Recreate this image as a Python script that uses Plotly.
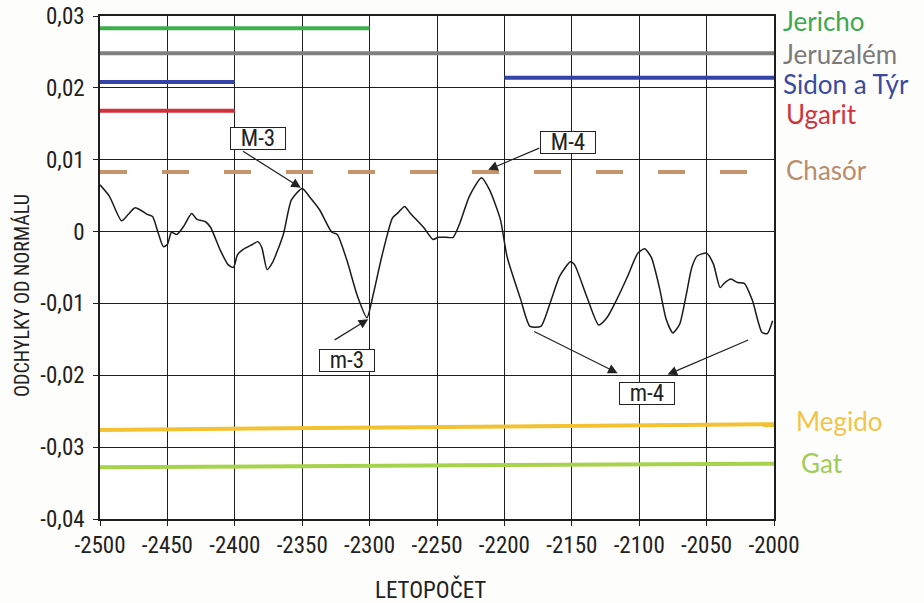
import plotly.graph_objects as go

# ---- curve data ----
years = [-2500,-2493,-2484,-2479,-2474,-2470,-2465,-2461,-2457,-2453,-2450,-2447,-2443,-2438,-2432,-2428,
         -2422,-2418,-2411,-2405,-2401,-2398,-2394,-2387,-2383,-2380,-2376,-2372,-2364,-2358,-2350,-2344,
         -2337,-2328,-2324,-2317,-2309,-2302,-2297,-2291,-2283,-2279,-2274,-2270,-2260,-2253,-2249,-2243,
         -2238,-2233,-2226,-2217,-2211,-2203,-2198,-2188,-2181,-2173,-2166,-2159,-2151,-2148,-2139,-2130,
         -2124,-2117,-2109,-2101,-2096,-2091,-2085,-2080,-2075,-2070,-2065,-2061,-2057,-2050,-2045,-2040,
         -2037,-2032,-2027,-2022,-2016,-2009,-2005,-2001]
deviation = [0.0065,0.0049,0.0015,0.0024,0.0033,0.0030,0.0024,0.0021,-0.0001,-0.0021,-0.0018,-0.0001,
             -0.0004,0.0007,0.0025,0.0017,0.0014,0.0006,-0.0025,-0.0046,-0.0050,-0.0032,-0.0025,-0.0018,
             -0.0014,-0.0022,-0.0053,-0.0043,-0.0004,0.0044,0.0060,0.0047,0.0030,-0.0001,-0.0004,-0.0039,
             -0.0090,-0.0120,-0.0085,-0.0035,0.0019,0.0026,0.0035,0.0026,0.0006,-0.0011,-0.0008,-0.0008,
             -0.0008,0.0012,0.0049,0.0075,0.0058,0.0017,-0.0035,-0.0094,-0.0132,-0.0132,-0.0099,-0.0062,
             -0.0042,-0.0046,-0.0090,-0.0130,-0.0120,-0.0096,-0.0064,-0.0030,-0.0024,-0.0036,-0.0078,-0.0122,
             -0.0141,-0.0129,-0.0087,-0.0050,-0.0034,-0.0030,-0.0045,-0.0078,-0.0072,-0.0066,-0.0071,-0.0072,
             -0.0096,-0.0140,-0.0142,-0.0124]

# ---- site level segments ----
seg_site   = ["Jericho", "Jeruzalém", "Sidon a Týr", "Sidon a Týr", "Ugarit", "Chasór", "Megido", "Gat"]
seg_start  = [-2500, -2500, -2500, -2200, -2500, -2500, -2500, -2500]
seg_end    = [-2300, -2000, -2400, -2000, -2400, -2000, -2000, -2000]
seg_y0     = [0.0283, 0.0248, 0.0208, 0.0214, 0.0168, 0.0083, -0.0276, -0.0328]
seg_y1     = [0.0283, 0.0248, 0.0208, 0.0214, 0.0168, 0.0083, -0.0268, -0.0323]

site_names  = ["Jericho", "Jeruzalém", "Sidon a Týr", "Ugarit", "Chasór", "Megido", "Gat"]
site_level  = [0.0283, 0.0248, 0.0214, 0.0168, 0.0083, -0.0268, -0.0323]

# ---- axis ticks ----
x_ticks = [-2500, -2450, -2400, -2350, -2300, -2250, -2200, -2150, -2100, -2050, -2000]
x_labels = ["-2500", "-2450", "-2400", "-2350", "-2300", "-2250", "-2200", "-2150", "-2100", "-2050", "-2000"]
y_ticks = [0.03, 0.02, 0.01, 0.0, -0.01, -0.02, -0.03, -0.04]
y_labels = ["0,03", "0,02", "0,01", "0", "-0,01", "-0,02", "-0,03", "-0,04"]

# ---- styles ----
line_colors = {"Jericho": "#3cae4c", "Jeruzalém": "#7f7f7f", "Sidon a Týr": "#3344a6",
               "Ugarit": "#d4303a", "Chasór": "#c4946c", "Megido": "#f2c232", "Gat": "#a6d24c"}
text_colors = {"Jericho": "#3ea84e", "Jeruzalém": "#7a7a7a", "Sidon a Týr": "#3a4aa0",
               "Ugarit": "#cf3440", "Chasór": "#b98c6c", "Megido": "#f0c54a", "Gat": "#a2cc5a"}
label_shift = {"Jericho": 7, "Jeruzalém": -1, "Sidon a Týr": -6, "Ugarit": -3,
               "Chasór": 2, "Megido": 3, "Gat": 1}
label_dx = {"Jericho": 0, "Jeruzalém": 0, "Sidon a Týr": 0, "Ugarit": 3,
            "Chasór": 3, "Megido": 13, "Gat": 18}

NARROW = "Liberation Sans Narrow, Arial Narrow, Roboto Condensed, Liberation Sans, sans-serif"
LABEL_FONT = "Lato, Open Sans, sans-serif"

fig = go.Figure()

for name, xs, xe, y0, y1 in zip(seg_site, seg_start, seg_end, seg_y0, seg_y1):
    fig.add_trace(go.Scatter(
        x=[xs, xe], y=[y0, y1], mode="lines",
        line=dict(color=line_colors[name], width=4,
                  dash="27px,35px" if name == "Chasór" else "solid"),
        showlegend=False, hoverinfo="skip"))

fig.add_trace(go.Scatter(
    x=years, y=deviation, mode="lines",
    line=dict(color="#1a1a1a", width=1.5, shape="spline", smoothing=0.6),
    showlegend=False))

annotations = []
for name, lvl in zip(site_names, site_level):
    annotations.append(dict(
        xref="paper", yref="y", x=1.011, y=lvl, xanchor="left", yanchor="middle",
        text=name, showarrow=False, yshift=label_shift[name], xshift=label_dx[name],
        font=dict(family=LABEL_FONT, size=26, color=text_colors[name])))

box = dict(bordercolor="#222", borderwidth=1, borderpad=1, bgcolor="white",
           width=52, height=19,
           font=dict(family=NARROW, size=23, color="#222"))

# text boxes
for txt, bx, by in [("M-3", -2383, 0.0130), ("M-4", -2153, 0.0124),
                    ("m-3", -2317, -0.0180), ("m-4", -2094, -0.0225)]:
    annotations.append(dict(x=bx, y=by, xref="x", yref="y", text=txt, showarrow=False, **box))

# arrows (tip x,y ; tail ax,ay)
for tx, ty, axx, ayy in [(-2351, 0.0061, -2395, 0.0113),
                         (-2212, 0.0086, -2173, 0.0117),
                         (-2301, -0.0122, -2327, -0.0152),
                         (-2116, -0.0197, -2179, -0.0138),
                         (-2079, -0.0199, -2018, -0.0150)]:
    annotations.append(dict(x=tx, y=ty, ax=axx, ay=ayy, xref="x", yref="y", axref="x", ayref="y",
                            text="", showarrow=True, arrowhead=2, arrowsize=1.6, arrowwidth=1.2,
                            arrowcolor="#222", standoff=0, startstandoff=0))

annotations.append(dict(xref="paper", yref="paper", x=-0.116, y=0.445, text="ODCHYLKY OD NORMÁLU",
                        textangle=-90, showarrow=False, xanchor="center", yanchor="middle",
                        font=dict(family=NARROW, size=20, color="#222")))
annotations.append(dict(xref="paper", yref="paper", x=0.49, y=-0.141, text="LETOPOČET",
                        showarrow=False, xanchor="center", yanchor="middle",
                        font=dict(family=NARROW, size=23, color="#222")))

axis_common = dict(showgrid=True, gridcolor="#1e1e1e", gridwidth=1.4, zeroline=False,
                   showline=True, linecolor="#1e1e1e", linewidth=1.6, mirror=True,
                   ticks="outside", ticklen=5, tickcolor="#1e1e1e", automargin=False,
                   tickfont=dict(family=NARROW, size=23, color="#222"))

fig.update_layout(
    width=924, height=603, autosize=False,
    margin=dict(l=100, r=150, t=16, b=84, pad=0, autoexpand=False),
    paper_bgcolor="#fdfdfb", plot_bgcolor="white",
    xaxis=dict(range=[-2500, -2000], tickvals=x_ticks, ticktext=x_labels, **axis_common),
    yaxis=dict(range=[-0.04, 0.03], tickvals=y_ticks, ticktext=y_labels,
               ticklabelstandoff=4, **axis_common),
    annotations=annotations,
    showlegend=False,
)

fig.write_html("out.html", config={"displayModeBar": False},
               post_script="document.body.style.margin='0';document.body.style.overflow='hidden';")
